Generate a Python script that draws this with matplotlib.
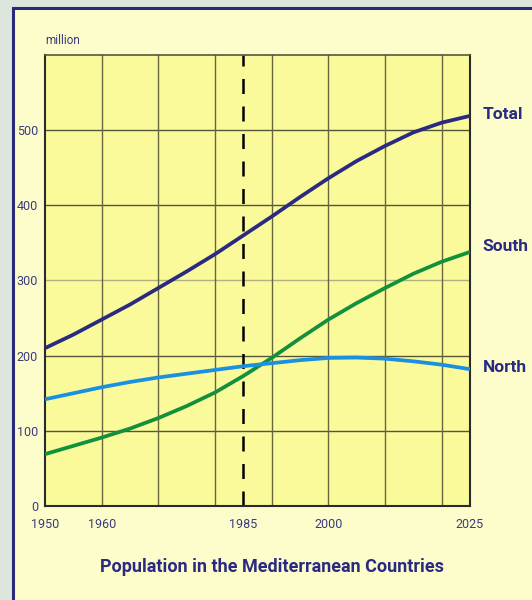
import matplotlib
matplotlib.use("Agg")
import matplotlib.pyplot as plt
from matplotlib.patches import Rectangle

years = [1950, 1955, 1960, 1965, 1970, 1975, 1980, 1985,
         1990, 1995, 2000, 2005, 2010, 2015, 2020, 2025]
total = [210, 228, 248, 268, 290, 312, 335, 360,
         385, 411, 436, 459, 479, 497, 510, 519]
south = [69, 80, 91, 103, 117, 133, 151, 173,
         197, 223, 248, 270, 290, 309, 325, 338]
north = [142, 150, 158, 165, 171, 176, 181, 186,
         190, 194, 197, 197.5, 196, 192.5, 188, 182]
series_names = ["Total", "South", "North"]
xtick_labels = [1950, 1960, 1985, 2000, 2025]
ytick_labels = [0, 100, 200, 300, 400, 500]
divider_year = 1985
title = "Population in the Mediterranean Countries"
unit = "million"

plt.rcParams['font.family'] = ['Roboto', 'DejaVu Sans']

W, H = 532, 600
fig = plt.figure(figsize=(W / 100, H / 100), dpi=100)
fig.patch.set_facecolor('#dde6dc')

# background panel
bg = fig.add_axes([0, 0, 1, 1], zorder=0)
bg.set_xlim(0, W)
bg.set_ylim(H, 0)
bg.axis('off')
bg.add_patch(Rectangle((13, 8), W, H, facecolor='#fdfdcc', edgecolor='#2a2a7a',
                       linewidth=2.2))

navy = '#2a2a80'
ax = fig.add_axes([45 / W, 94 / H, 425 / W, 451 / H], zorder=1)
ax.set_facecolor('#fafa9a')
ax.set_xlim(1950, 2025)
ax.set_ylim(0, 600)

for y in [100, 200, 400, 500]:
    ax.axhline(y, color='#55553a', lw=1.0, zorder=1)
ax.axhline(300, color='#b0b080', lw=1.0, zorder=1)
for x in range(1960, 2025, 10):
    ax.axvline(x, color='#66663f', lw=1.0, zorder=1)

ax.axvline(divider_year, color='black', lw=1.8, dashes=(6, 5), zorder=2)

colors = [navy, '#13903c', '#1a90e0']
offsets = [1, 4, 1]
for name, vals, c, dy in zip(series_names, [total, south, north], colors, offsets):
    ax.plot(years, vals, color=c, lw=2.7, solid_capstyle='butt', zorder=3)
    ax.annotate(name, xy=(2025, vals[-1]), xytext=(9, dy), textcoords='offset points',
                ha='left', va='center', fontsize=12.5, fontweight='bold', color=navy,
                annotation_clip=False)

ax.set_xticks(xtick_labels)
ax.set_xticklabels([str(v) for v in xtick_labels])
ax.set_yticks(ytick_labels)
ax.set_yticklabels([str(v) for v in ytick_labels])
ax.tick_params(axis='both', length=0, labelsize=9, labelcolor='#3a3a80')
ax.tick_params(axis='x', pad=9)
ax.tick_params(axis='y', pad=5)
for s in ax.spines.values():
    s.set_color('#2a2a2a')
    s.set_linewidth(1.5)
ax.spines['top'].set_color('#55553a')
ax.spines['top'].set_linewidth(1.2)

fig.text(45 / W, 1 - 41 / H, unit, fontsize=8.5, color='#3a3a80', ha='left', va='center')
fig.text(272 / W, 1 - 567 / H, title, fontsize=13, fontweight='bold', color=navy,
         ha='center', va='center')

fig.savefig('out.png', dpi=100, facecolor=fig.get_facecolor())
